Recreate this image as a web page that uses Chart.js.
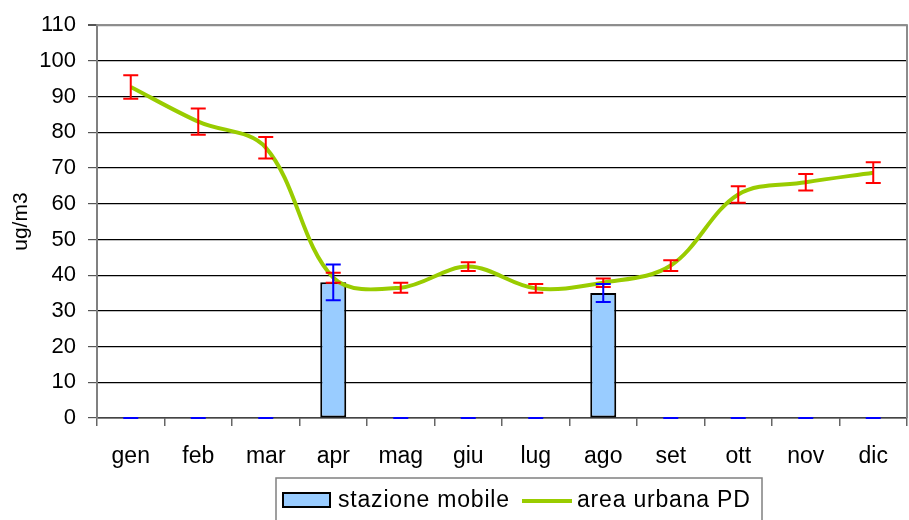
<!DOCTYPE html>
<html>
<head>
<meta charset="utf-8">
<script src="https://cdn.jsdelivr.net/npm/chart.js@4/dist/chart.umd.min.js"></script>
<style>
html,body{margin:0;padding:0;background:#fff;}
canvas{display:block;}
</style>
</head>
<body>
<canvas id="c" width="909" height="520"></canvas>
<script>
const months = ['gen','feb','mar','apr','mag','giu','lug','ago','set','ott','nov','dic'];
const mobileValues = [0,0,0,38,0,0,0,35,0,0,0,0];
const mobileErrors = [0,0,0,5,0,0,0,2.5,0,0,0,0];
const urbanValues = [92.7,83,75.7,39.3,36.5,42.4,36.3,37.9,42.7,62.6,66,68.7];
const urbanErrors = [3.3,3.7,3,1.4,1.4,1.2,1.2,1.2,1.5,2.3,2.3,2.9];
const yTicks = [0,10,20,30,40,50,60,70,80,90,100,110];
const seriesNames = ['stazione mobile','area urbana PD'];
const yTitle = 'ug/m3';

const FONT = "'Liberation Sans', Arial, sans-serif";

const errorBars = {
  id: 'errorBars',
  afterDatasetsDraw(chart) {
    const ctx = chart.ctx, ys = chart.scales.y;
    chart.data.datasets.forEach((ds, i) => {
      const meta = chart.getDatasetMeta(i);
      meta.data.forEach((el, j) => {
        const v = ds.data[j], e = ds.errors[j];
        if (v == null) return;
        const x = el.x;
        const yt = ys.getPixelForValue(v + e), yb = ys.getPixelForValue(v - e);
        const hw = 7.5;
        ctx.save();
        ctx.strokeStyle = ds.errorColor;
        ctx.lineWidth = 2;
        ctx.beginPath();
        ctx.moveTo(x, yt); ctx.lineTo(x, yb);
        ctx.moveTo(x - hw, yt); ctx.lineTo(x + hw, yt);
        ctx.moveTo(x - hw, yb); ctx.lineTo(x + hw, yb);
        ctx.stroke();
        ctx.restore();
      });
    });
  }
};

const frame = {
  id: 'frame',
  afterDraw(chart) {
    const ctx = chart.ctx, a = chart.chartArea;
    ctx.save();
    ctx.strokeStyle = '#8c8c8c';
    ctx.lineWidth = 2;
    ctx.beginPath();
    ctx.moveTo(a.left, a.top); ctx.lineTo(a.right, a.top); ctx.lineTo(a.right, a.bottom);
    ctx.stroke();
    // legend
    const lx = 276, lt = 478, lr = 762;
    ctx.strokeStyle = '#808080';
    ctx.lineWidth = 1.5;
    ctx.strokeRect(lx, lt, lr - lx, 60);
    ctx.fillStyle = '#99CCFF';
    ctx.fillRect(283, 493, 47, 14);
    ctx.strokeStyle = '#000';
    ctx.lineWidth = 2;
    ctx.strokeRect(283, 493, 47, 14);
    ctx.fillStyle = '#000';
    ctx.font = '23px ' + FONT;
    ctx.letterSpacing = '0.8px';
    ctx.textBaseline = 'alphabetic';
    ctx.textAlign = 'left';
    ctx.fillText(seriesNames[0], 338, 507);
    ctx.strokeStyle = '#99CC00';
    ctx.lineWidth = 4;
    ctx.beginPath();
    ctx.moveTo(522, 501); ctx.lineTo(572, 501);
    ctx.stroke();
    ctx.fillText(seriesNames[1], 577, 507);
    ctx.letterSpacing = '0px';
    ctx.restore();
  }
};

new Chart(document.getElementById('c'), {
  data: {
    labels: months,
    datasets: [
      {
        type: 'line',
        label: seriesNames[1],
        data: urbanValues,
        errors: urbanErrors,
        errorColor: '#FF0000',
        borderColor: '#99CC00',
        borderWidth: 4,
        pointRadius: 0,
        tension: 0.35,
        fill: false,
        order: 0
      },
      {
        type: 'bar',
        label: seriesNames[0],
        data: mobileValues,
        errors: mobileErrors,
        errorColor: '#0000FF',
        backgroundColor: '#99CCFF',
        borderColor: '#000000',
        borderWidth: 2,
        borderSkipped: false,
        categoryPercentage: 1,
        barPercentage: 0.385,
        order: 1
      }
    ]
  },
  options: {
    responsive: false,
    animation: false,
    devicePixelRatio: 1,
    layout: { padding: { top: 25, right: 2, bottom: 42, left: 0 } },
    plugins: {
      legend: { display: false },
      tooltip: { enabled: false },
      title: { display: false }
    },
    scales: {
      x: {
        type: 'category',
        offset: true,
        afterFit(s) { s.height = 60; },
        grid: {
          offset: true,
          drawOnChartArea: false,
          tickLength: 8,
          color: '#666666',
          lineWidth: 1.5
        },
        border: { color: '#444444', width: 1.5 },
        ticks: { color: '#000', font: { family: FONT, size: 23 }, padding: 17, maxRotation: 0, autoSkip: false }
      },
      y: {
        min: 0,
        max: 110,
        afterFit(s) { s.width = 97; },
        afterBuildTicks(s) { s.ticks = yTicks.map(v => ({ value: v })); },
        grid: {
          tickLength: 9,
          color: (c) => (c.tick && c.tick.value === 110) ? '#9a9a9a' : '#000000',
          tickColor: '#555555',
          lineWidth: (c) => (c.tick && c.tick.value === 110) ? 2 : 1.2
        },
        border: { color: '#808080', width: 2 },
        ticks: { color: '#000', font: { family: FONT, size: 22 }, padding: 12, stepSize: 10 },
        title: {
          display: true,
          text: yTitle,
          color: '#000',
          font: { family: FONT, size: 21 },
          padding: { top: 9, bottom: 0 }
        }
      }
    }
  },
  plugins: [errorBars, frame]
});
</script>
</body>
</html>
